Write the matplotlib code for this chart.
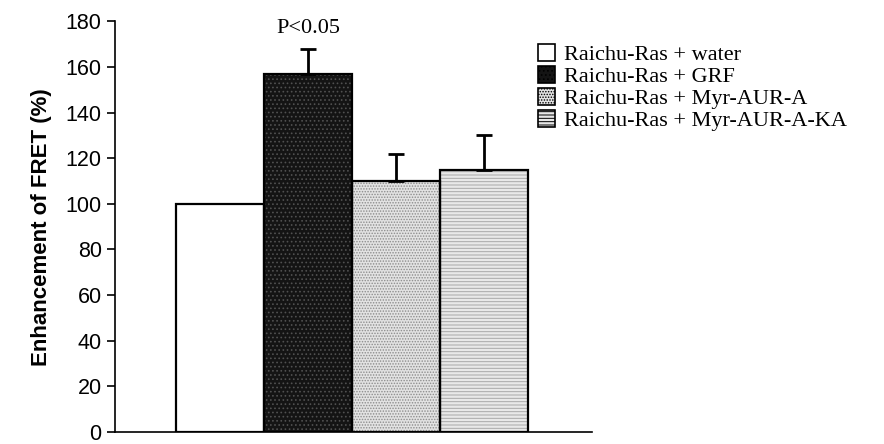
import numpy as np
import matplotlib.pyplot as plt
from matplotlib.patches import Patch

groups = ["Raichu-Ras + water", "Raichu-Ras + GRF",
          "Raichu-Ras + Myr-AUR-A", "Raichu-Ras + Myr-AUR-A-KA"]
means = [100, 157, 110, 115]
errs = [0, 11, 12, 15]
yticks = [0, 20, 40, 60, 80, 100, 120, 140, 160, 180]

faces = ["white", "#141414", "#e2e2e2", "#e8e8e8"]
hatches = [None, "....", "......", "-----"]
hatch_cols = ["white", "#505050", "#8c8c8c", "#a8a8a8"]

fig = plt.figure(figsize=(8.84, 4.44), dpi=100)
ax = fig.add_axes([0.130, 0.027, 0.540, 0.925])

x = np.arange(len(groups))
plt.rcParams["hatch.linewidth"] = 0.7
# hatched fill first, then the black outline on top
for i in range(len(groups)):
    ax.bar(x[i], means[i], width=1.0, color=faces[i], hatch=hatches[i],
           edgecolor=hatch_cols[i], linewidth=0)
ax.bar(x, means, width=1.0, color="none", edgecolor="black", linewidth=1.6)

ax.errorbar(x[1:], means[1:], yerr=[np.zeros(3), errs[1:]], fmt="none",
            ecolor="black", elinewidth=2, capsize=6, capthick=2)

ax.text(x[1], 177, "P<0.05", ha="center", va="center",
        fontsize=16, family="Liberation Serif")

ax.set_xlim(-1.2, 4.23)
ax.set_ylim(0, 180)
ax.set_yticks(yticks)
ax.set_xticks([])
for s in ["top", "right"]:
    ax.spines[s].set_visible(False)
ax.spines["left"].set_linewidth(1.2)
ax.spines["bottom"].set_linewidth(1.2)
ax.tick_params(axis="y", direction="out", length=6, width=1.2, labelsize=15.5)
for lab in ax.get_yticklabels():
    lab.set_family("Liberation Sans")
ax.set_ylabel("Enhancement of FRET (%)", fontsize=16, fontweight="bold",
              family="Liberation Sans", labelpad=10)

handles = [Patch(facecolor=faces[i], edgecolor="black", hatch=hatches[i],
                 linewidth=1.2) for i in range(len(groups))]
fig.legend(handles, groups, loc="upper left", bbox_to_anchor=(0.596, 0.925),
           frameon=False, prop={"family": "Liberation Serif", "size": 16},
           handlelength=0.75, handleheight=0.75, handletextpad=0.4,
           labelspacing=0.05, borderpad=0)

fig.savefig("out.png", dpi=100)
